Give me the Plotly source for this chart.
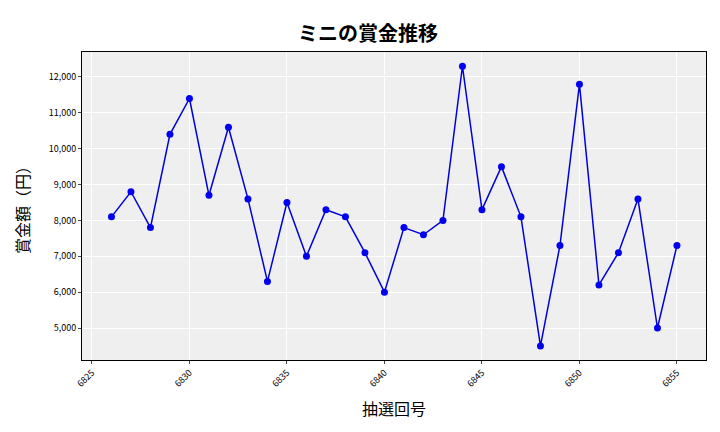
import plotly.graph_objects as go

draws = list(range(6826, 6856))
prizes = [8100, 8800, 7800, 10400, 11400, 8700, 10600, 8600, 6300, 8500,
          7000, 8300, 8100, 7100, 6000, 7800, 7600, 8000, 12300, 8300,
          9500, 8100, 4500, 7300, 11800, 6200, 7100, 8600, 5000, 7300]
xticks = [6825, 6830, 6835, 6840, 6845, 6850, 6855]
yticks = [5000, 6000, 7000, 8000, 9000, 10000, 11000, 12000]

fig = go.Figure(go.Scatter(x=draws, y=prizes, mode="lines+markers",
                           line=dict(color="#0000dd", width=1.5),
                           marker=dict(color="#0000ee", size=7)))
font = "Noto Sans CJK JP"
fig.update_layout(
    width=720, height=432, paper_bgcolor="white", plot_bgcolor="#efefef",
    margin=dict(l=74, r=22, t=44, b=80),
    font=dict(family=font, color="black"),
    title=dict(text="<b>ミニの賞金推移</b>", x=0.5, xanchor="center", y=0.955, font=dict(size=20)),
    showlegend=False,
)
fig.update_xaxes(range=[6824.49, 6856.49], tickvals=xticks, tickangle=-45,
                 tickfont=dict(size=9), gridcolor="white", showline=True, linecolor="black",
                 ticks="outside", ticklen=3, zeroline=False, mirror=True,
                 title=dict(text="抽選回号", font=dict(size=16)))
fig.update_yaxes(range=[4108, 12697], tickvals=yticks, tickformat=",",
                 tickfont=dict(size=9), gridcolor="white", showline=True, linecolor="black",
                 ticks="outside", ticklen=3, zeroline=False, mirror=True,
                 title=dict(text="賞金額（円）", font=dict(size=16)))
fig.write_html("out.html")
